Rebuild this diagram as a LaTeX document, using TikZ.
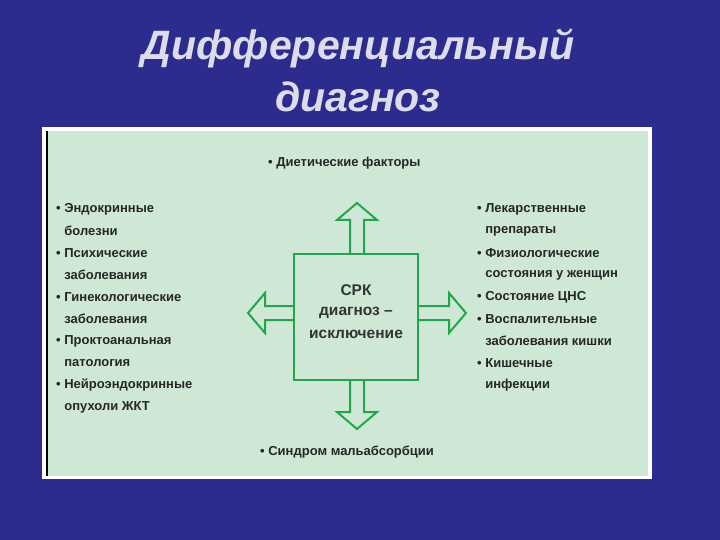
\documentclass[tikz,border=0pt]{standalone}
\usepackage{fontspec}
\setmainfont{Liberation Sans}
\definecolor{bg}{HTML}{2C2C8E}
\definecolor{panel}{HTML}{CFE8D6}
\definecolor{grn}{HTML}{1FA84A}
\definecolor{ttl}{HTML}{DCDCEA}
\begin{document}
\begin{tikzpicture}[x=1pt,y=-1pt,
  item/.style={anchor=west,font=\bfseries\fontsize{13}{14}\selectfont,inner sep=0pt,text=black!85},
  ctr/.style={font=\bfseries\fontsize{15.5}{17}\selectfont,text=black!80,inner sep=0pt},
  arr/.style={draw=grn,line width=2pt,fill=panel,line join=miter},
  ttlf/.style={font=\bfseries\itshape\fontsize{41}{44}\selectfont,text=ttl}]
\fill[bg] (0,0) rectangle (720,540);
\useasboundingbox (0,0) rectangle (720,540);
\node[ttlf] (t1) at (358,48) {Дифференциальный};
\node[ttlf] (t2) at (358,97) {диагноз};
\fill[white] (42,127) rectangle (652,479);
\fill[panel] (46,131) rectangle (648,476);
\draw[black,line width=1.5pt] (47,131) -- (47,476);
% arrows
\draw[arr] (350,254) -- (350,220) -- (337,220) -- (357,203) -- (377,220) -- (364,220) -- (364,254);
\draw[arr] (350,379) -- (350,412) -- (337,412) -- (357,429) -- (377,412) -- (364,412) -- (364,379);
\draw[arr] (294,306) -- (265,306) -- (265,293) -- (248,313) -- (265,333) -- (265,320) -- (294,320);
\draw[arr] (417,306) -- (449,306) -- (449,293) -- (466,313) -- (449,333) -- (449,320) -- (417,320);
\node[draw=grn,line width=2pt,fill=panel,minimum width=124pt,minimum height=126pt,inner sep=0pt] (box) at (356,316.5) {};
\node[ctr] (c1) at (356,290) {СРК};
\node[ctr] (c2) at (356,313) {диагноз –};
\node[ctr] (c3) at (356,334) {исключение};
\node[item] (top) at (268,163) {• Диетические факторы};
\node[item] (bot) at (260,452) {• Синдром мальабсорбции};
\foreach \t [count=\i] in {• Эндокринные,\phantom{• }болезни,• Психические,\phantom{• }заболевания,• Гинекологические,\phantom{• }заболевания,• Проктоанальная,\phantom{• }патология,• Нейроэндокринные,\phantom{• }опухоли ЖКТ}
  \node[item] (l\i) at (56,187+22*\i) {\t};
\foreach \t [count=\i] in {• Лекарственные,\phantom{• }препараты,• Физиологические,\phantom{• }состояния у женщин,• Состояние ЦНС,• Воспалительные,\phantom{• }заболевания кишки,• Кишечные,\phantom{• }инфекции}
  \node[item] (r\i) at (477,187+22*\i) {\t};
\end{tikzpicture}
\end{document}
